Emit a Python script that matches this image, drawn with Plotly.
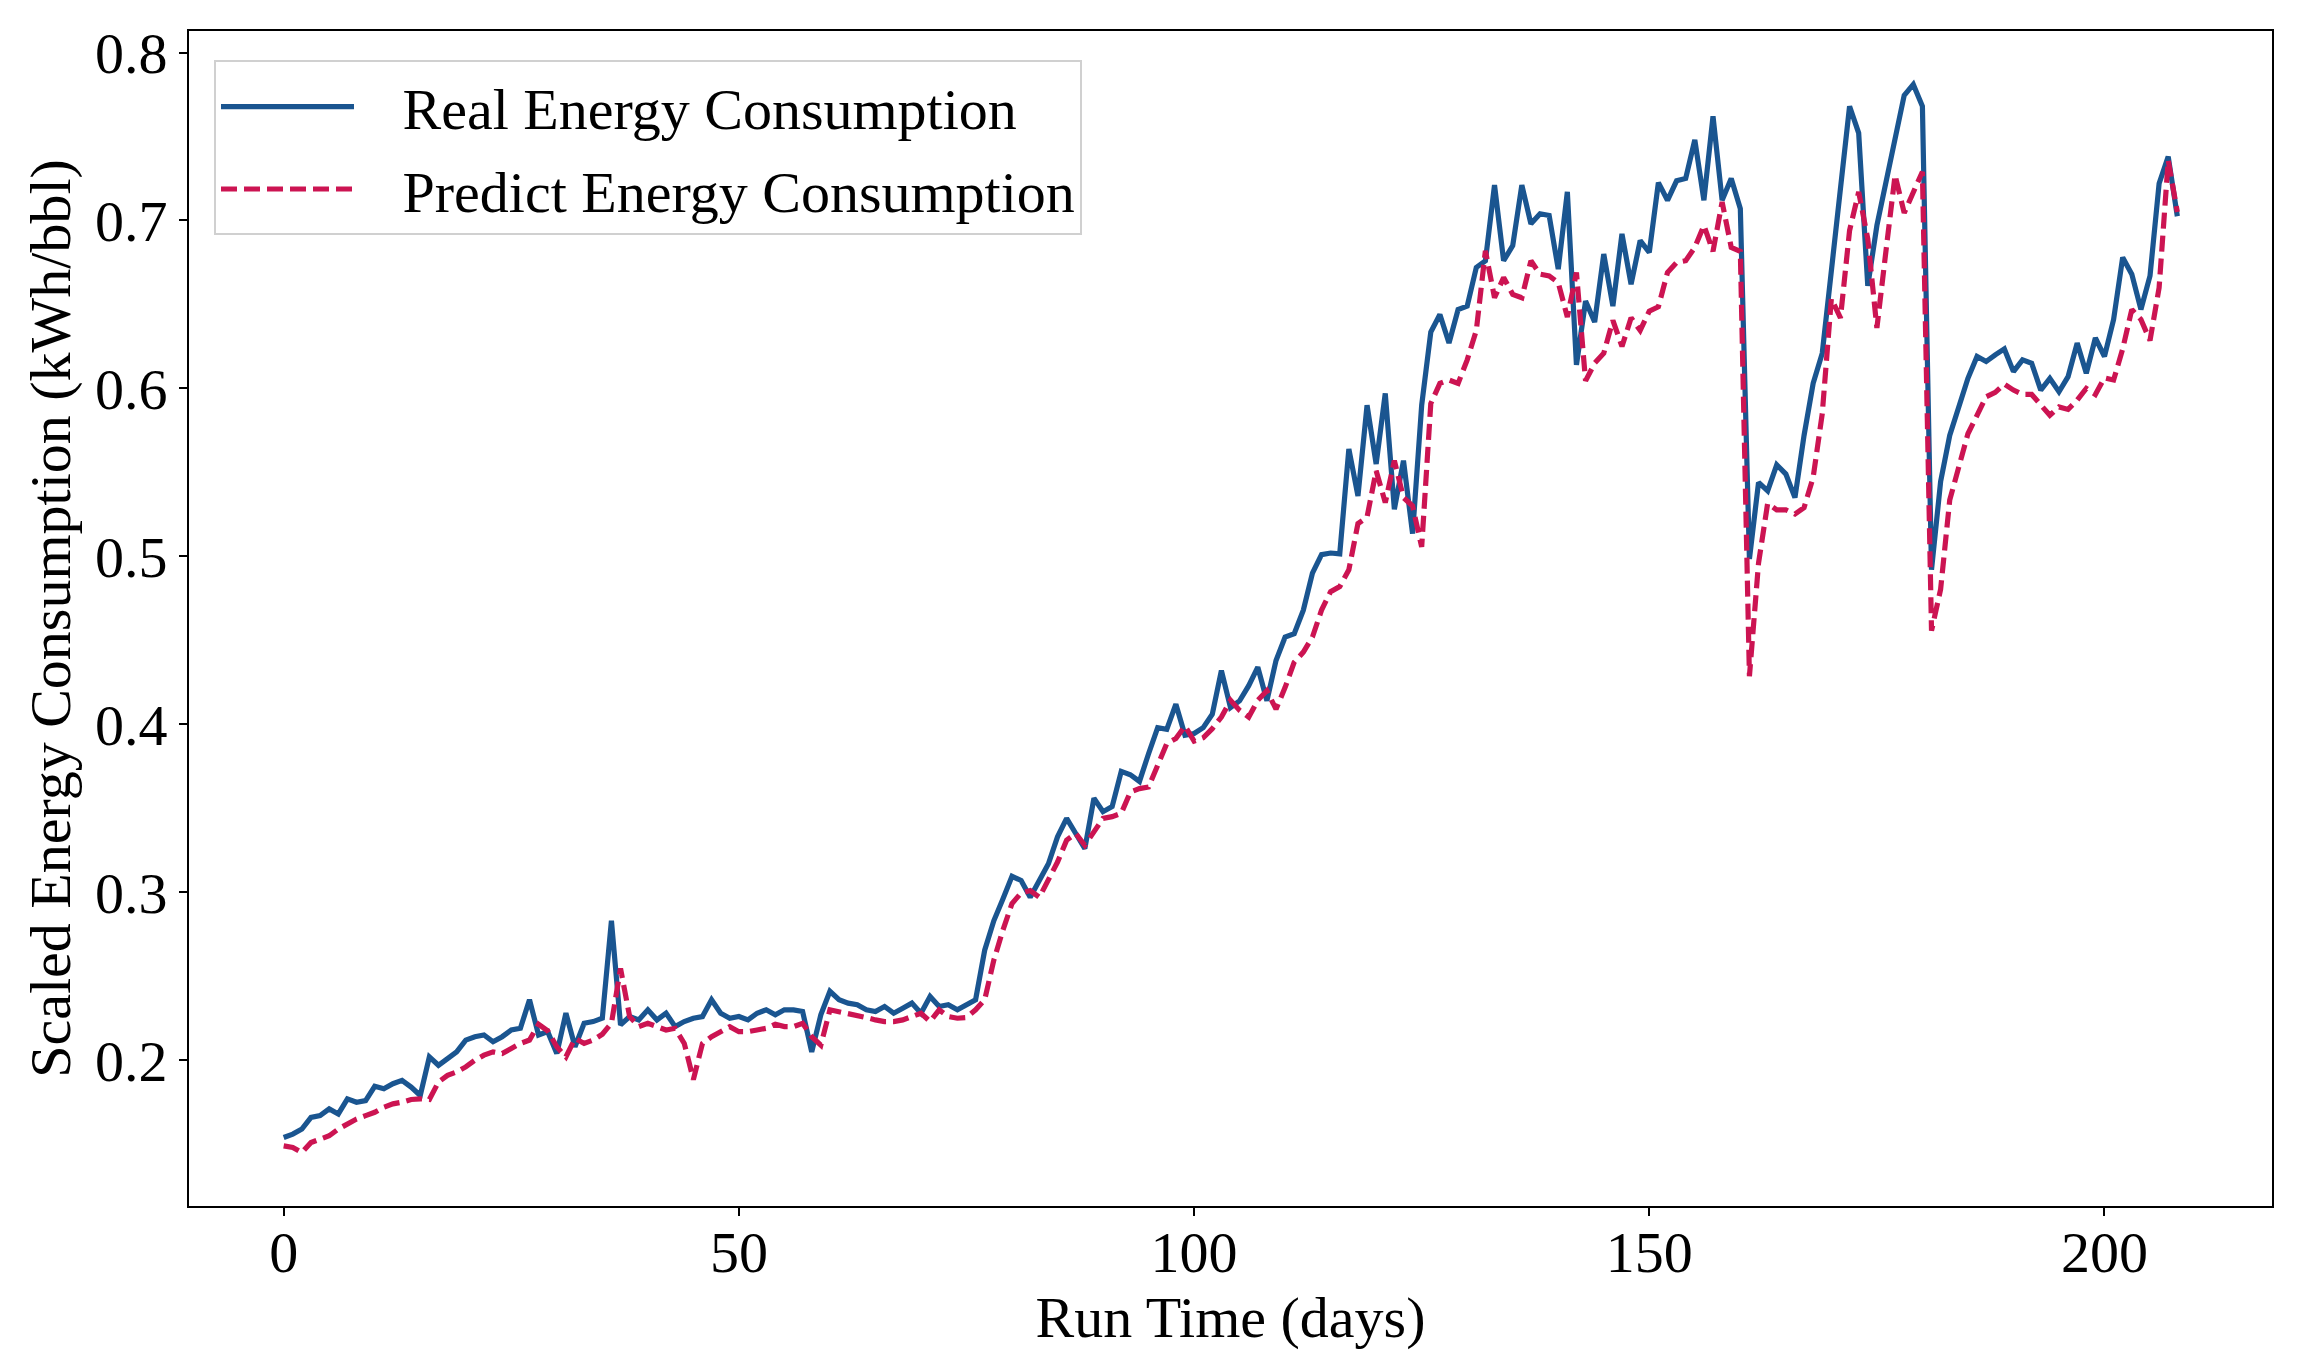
import plotly.graph_objects as go

# Run time in days
days = list(range(209))

# Real energy consumption (scaled, kWh/bbl)
real = [
    0.154, 0.156, 0.159, 0.166, 0.167, 0.171, 0.168, 0.177, 0.175, 0.176,
    0.1845, 0.183, 0.186, 0.188, 0.184, 0.179, 0.202, 0.197, 0.201, 0.205,
    0.212, 0.214, 0.215, 0.211, 0.214, 0.218, 0.219, 0.236, 0.215, 0.217,
    0.204, 0.228, 0.208, 0.222, 0.223, 0.225, 0.283, 0.221, 0.226, 0.224,
    0.230, 0.224, 0.228, 0.220, 0.223, 0.225, 0.226, 0.236, 0.228, 0.225,
    0.226, 0.224, 0.228, 0.230, 0.227, 0.230, 0.230, 0.229, 0.205, 0.227,
    0.241, 0.236, 0.234, 0.233, 0.230, 0.229, 0.232, 0.228, 0.231, 0.234,
    0.228, 0.238, 0.232, 0.233, 0.230, 0.233, 0.236, 0.2655, 0.283, 0.296,
    0.3095, 0.307, 0.297, 0.307, 0.317, 0.333, 0.344, 0.335, 0.326, 0.356,
    0.348, 0.351, 0.372, 0.370, 0.366, 0.3825, 0.398, 0.397, 0.412, 0.3935,
    0.3945, 0.398, 0.406, 0.432, 0.410, 0.414, 0.423, 0.434, 0.414, 0.438,
    0.452, 0.454, 0.468, 0.490, 0.501, 0.502, 0.5015, 0.564, 0.536, 0.590,
    0.555, 0.597, 0.528, 0.557, 0.5135, 0.590, 0.6335, 0.644, 0.627, 0.647,
    0.649, 0.672, 0.676, 0.721, 0.676, 0.685, 0.721, 0.698, 0.704, 0.703,
    0.671, 0.717, 0.614, 0.652, 0.6395, 0.680, 0.649, 0.692, 0.662, 0.688,
    0.681, 0.7225, 0.712, 0.7236, 0.725, 0.748, 0.712, 0.762, 0.712, 0.725,
    0.707, 0.4985, 0.544, 0.539, 0.5545, 0.549, 0.535, 0.572, 0.603, 0.621,
    0.669, 0.715, 0.768, 0.752, 0.661, 0.697, 0.722, 0.748, 0.7745, 0.781,
    0.768, 0.492, 0.5445, 0.572, 0.590, 0.606, 0.619, 0.616, 0.620, 0.6235,
    0.610, 0.617, 0.615, 0.599, 0.606, 0.598, 0.607, 0.627, 0.609, 0.630,
    0.619, 0.641, 0.678, 0.668, 0.647, 0.667, 0.722, 0.738, 0.7025,
]

# Predicted energy consumption (scaled, kWh/bbl)
pred = [
    0.149, 0.148, 0.145, 0.151, 0.153, 0.155, 0.159, 0.162, 0.165, 0.167,
    0.169, 0.172, 0.174, 0.175, 0.1766, 0.177, 0.1766, 0.187, 0.191, 0.193,
    0.196, 0.200, 0.203, 0.205, 0.204, 0.207, 0.210, 0.212, 0.2214, 0.2175,
    0.208, 0.202, 0.213, 0.210, 0.212, 0.2155, 0.222, 0.2546, 0.226, 0.220,
    0.222, 0.220, 0.218, 0.219, 0.210, 0.1885, 0.210, 0.214, 0.217, 0.220,
    0.217, 0.217, 0.218, 0.219, 0.2214, 0.220, 0.220, 0.222, 0.214, 0.209,
    0.230, 0.229, 0.228, 0.227, 0.2254, 0.224, 0.223, 0.223, 0.224, 0.226,
    0.228, 0.223, 0.230, 0.226, 0.225, 0.2254, 0.230, 0.236, 0.2595, 0.2774,
    0.2933, 0.2996, 0.301, 0.297, 0.307, 0.318, 0.331, 0.335, 0.328, 0.336,
    0.344, 0.345, 0.347, 0.3597, 0.3617, 0.3627, 0.3766, 0.3885, 0.3915, 0.399,
    0.390, 0.392, 0.3974, 0.4043, 0.4143, 0.4083, 0.4043, 0.4143, 0.420, 0.409,
    0.422, 0.437, 0.443, 0.452, 0.468, 0.479, 0.482, 0.492, 0.5195, 0.5234,
    0.551, 0.532, 0.557, 0.535, 0.530, 0.5056, 0.591, 0.603, 0.605, 0.603,
    0.617, 0.6345, 0.682, 0.654, 0.666, 0.656, 0.654, 0.676, 0.668, 0.667,
    0.663, 0.6425, 0.669, 0.6045, 0.615, 0.621, 0.6405, 0.625, 0.642, 0.6345,
    0.646, 0.6486, 0.669, 0.675, 0.676, 0.684, 0.697, 0.6816, 0.711, 0.684,
    0.6816, 0.4286, 0.496, 0.5315, 0.5277, 0.5277, 0.5252, 0.529, 0.547, 0.585,
    0.6535, 0.642, 0.694, 0.717, 0.689, 0.636, 0.682, 0.727, 0.7045, 0.717,
    0.729, 0.4557, 0.4804, 0.5335, 0.554, 0.573, 0.584, 0.595, 0.5976, 0.6026,
    0.599, 0.5964, 0.5964, 0.590, 0.584, 0.589, 0.5875, 0.593, 0.600, 0.5964,
    0.6063, 0.605, 0.6235, 0.647, 0.641, 0.6285, 0.660, 0.7358, 0.705,
]

x_ticks = [0, 50, 100, 150, 200]
y_ticks = [0.2, 0.3, 0.4, 0.5, 0.6, 0.7, 0.8]

xpad = 0.05 * (days[-1] - days[0])
allv = real + pred
ymin, ymax = min(allv), max(allv)
ypad = 0.05 * (ymax - ymin)

FONT = "Liberation Serif, Times New Roman, serif"
FS = 58
GAP = "\u00a0\u00a0\u00a0"

fig = go.Figure()
fig.add_trace(go.Scatter(
    x=days, y=real, mode="lines", name=GAP + "Real Energy Consumption",
    legendgroup="real",
    line=dict(color="#1a5590", width=5.2),
))
fig.add_trace(go.Scatter(
    x=days, y=pred, mode="lines", name=GAP + "Predict Energy Consumption",
    legendgroup="pred",
    line=dict(color="#cc1452", width=5.2, dash="16px,7px"),
))

fig.update_layout(
    width=2301, height=1361,
    margin=dict(l=181, r=37, t=23, b=163),
    paper_bgcolor="white", plot_bgcolor="white",
    font=dict(family=FONT, size=FS, color="black"),
    legend=dict(
        x=0.012, y=0.975, xanchor="left", yanchor="top",
        bgcolor="rgba(255,255,255,0.8)", bordercolor="#d0d0d0", borderwidth=2,
        font=dict(family=FONT, size=FS, color="black"),
        itemwidth=133, traceorder="grouped", tracegroupgap=4,
    ),
)
fig.update_xaxes(
    range=[days[0] - xpad, days[-1] + xpad],
    tickvals=x_ticks, ticks="outside", ticklen=8, tickwidth=2, tickcolor="black",
    ticklabelstandoff=-14,
    showline=True, linecolor="black", linewidth=2, mirror=True,
    showgrid=False, zeroline=False,
    title=dict(text="Run Time (days)", font=dict(family=FONT, size=FS), standoff=0),
)
fig.update_yaxes(
    range=[ymin - ypad, ymax + ypad],
    tickvals=y_ticks, tickformat=".1f", ticks="outside", ticklen=8, tickwidth=2,
    tickcolor="black",
    showline=True, linecolor="black", linewidth=2, mirror=True,
    showgrid=False, zeroline=False,
    title=dict(text="Scaled Energy Consumption (kWh/bbl)", font=dict(family=FONT, size=FS), standoff=6),
)

fig.write_html("out.html")
